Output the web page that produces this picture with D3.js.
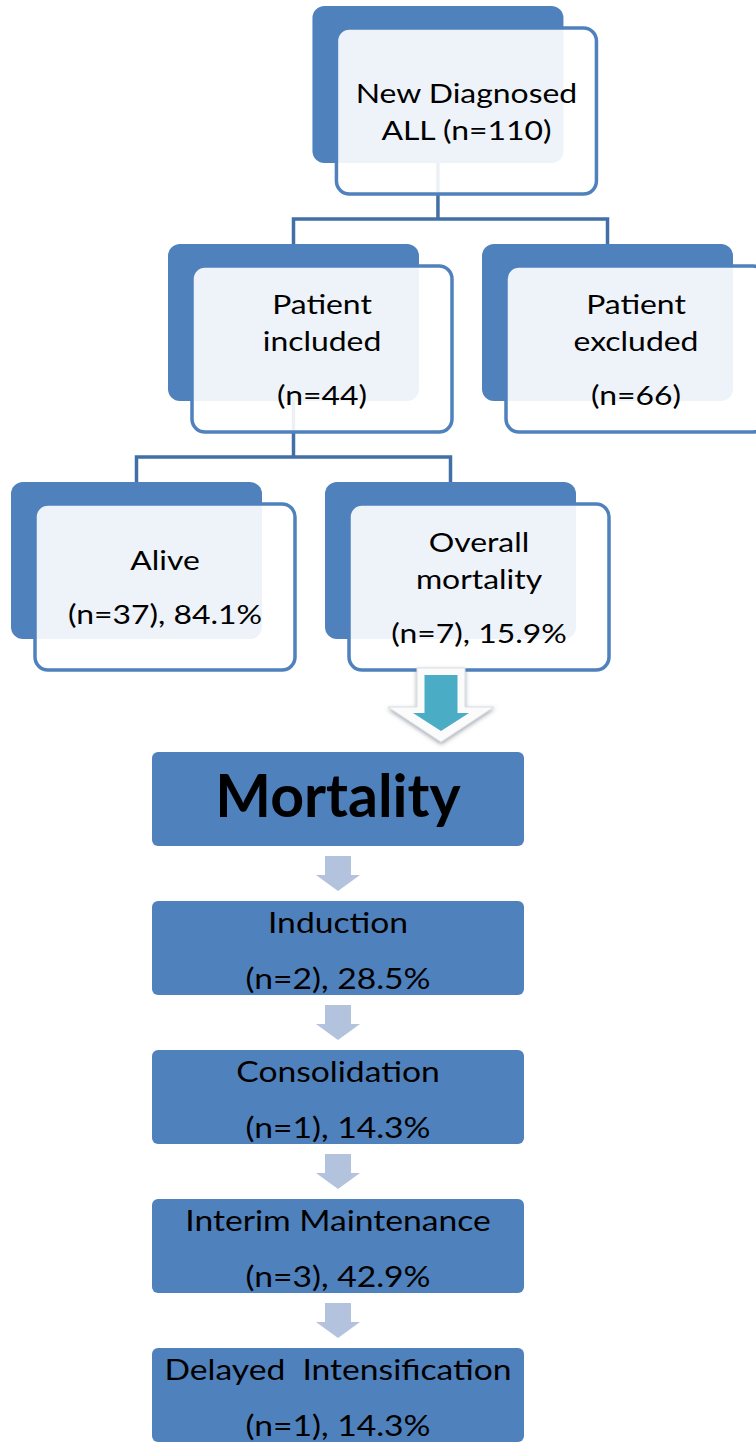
<!DOCTYPE html>
<html>
<head>
<meta charset="utf-8">
<script src="https://cdn.jsdelivr.net/npm/d3@7/dist/d3.min.js"></script>
<style>
  body { margin: 0; background: #fff; }
  text { font-family: Lato, "Open Sans", sans-serif; fill: #000; white-space: pre; }
</style>
</head>
<body>
<svg id="canvas" width="756" height="1446"></svg>
<script>
// flow tree
let nodeTitles = [["New Diagnosed"], ["Patient", "included"], ["Patient", "excluded"], ["Alive"], ["Overall", "mortality"]]
let nodeCounts = [110, 44, 66, 37, 7]
let nodePercents = [null, null, null, 84.1, 15.9]
let nodeParents = [null, 0, 0, 1, 1]

// mortality by phase
let mortalityTitle = "Mortality"
let phaseNames = ["Induction", "Consolidation", "Interim Maintenance", "Delayed  Intensification"]
let phaseCounts = [2, 1, 3, 1]
let phasePercents = [28.5, 14.3, 42.9, 14.3]

let canvas = d3.select("#canvas")

let blue = "#4f81bd"
let lineBlue = "#4270a6"
let stretch = 1.16   // text in the picture is a bit wide

// layout of the tree
let nodeCols = [1.92, 1, 3, 0, 2]
let nodeLevels = [0, 1, 1, 2, 2]
let xCol = d3.scaleLinear().domain([0, 1]).range([11, 168])
let yLevel = d3.scaleLinear().domain([0, 1]).range([6, 244])
let backW = 251, backH = 157
let offX = 24, offY = 22, frontW = 260, frontH = 166

let nodes = nodeTitles.map((t, i) => {
    let x = xCol(nodeCols[i])
    let y = yLevel(nodeLevels[i])
    let lines
    let breaks
    if (nodeParents[i] === null) {
        lines = [t[0], "ALL (n=" + nodeCounts[i] + ")"]
        breaks = [false, false]
    } else {
        let last = "(n=" + nodeCounts[i] + ")" + (nodePercents[i] !== null ? ", " + nodePercents[i].toFixed(1) + "%" : "")
        lines = t.concat([last])
        breaks = t.map(() => false).concat([true])
    }
    return { x: x, y: y, lines: lines, breaks: breaks, parent: nodeParents[i] }
})

// connectors (drawn first, boxes sit on top)
let connectors = canvas.append("g")
nodes.forEach((n, i) => {
    let kids = nodes.filter(k => k.parent === i)
    if (kids.length === 0) return
    let px = n.x + backW / 2
    let midY = (n.y + offY + frontH + kids[0].y) / 2
    let path = d3.path()
    path.moveTo(px, n.y + backH)
    path.lineTo(px, midY)
    let xs = kids.map(k => k.x + backW / 2)
    path.moveTo(d3.min(xs), kids[0].y)
    path.lineTo(d3.min(xs), midY)
    path.lineTo(d3.max(xs), midY)
    path.lineTo(d3.max(xs), kids[0].y)
    connectors.append("path")
        .attr("d", path.toString())
        .attr("fill", "none")
        .attr("stroke", lineBlue)
        .attr("stroke-width", 3.5)
})

let drawText = (g, str, x, y, size, weight, sx) => {
    g.append("text")
        .attr("transform", "translate(" + x + "," + y + ") scale(" + sx + ",1)")
        .attr("text-anchor", "middle")
        .style("font-size", size + "px")
        .style("font-weight", weight)
        .text(str)
}

let nodeGroups = canvas.selectAll("g.node")
    .data(nodes)
    .enter()
    .append("g")
    .attr("class", "node")

nodeGroups.append("rect")
    .attr("x", d => d.x)
    .attr("y", d => d.y)
    .attr("width", backW)
    .attr("height", backH)
    .attr("rx", 12)
    .attr("fill", blue)

nodeGroups.append("rect")
    .attr("x", d => d.x + offX)
    .attr("y", d => d.y + offY)
    .attr("width", frontW)
    .attr("height", frontH)
    .attr("rx", 13)
    .attr("fill", "#fff")
    .attr("fill-opacity", 0.9)
    .attr("stroke", blue)
    .attr("stroke-width", 3.5)

nodeGroups.each(function (d) {
    let g = d3.select(this)
    let gaps = d.breaks.slice(1).map(b => b ? 54 : 37)
    let span = d3.sum(gaps)
    let y = d.y + offY + 93 - span / 2
    let cx = d.x + offX + frontW / 2
    d.lines.forEach((line, j) => {
        if (j > 0) y += gaps[j - 1]
        drawText(g, line, cx, y, 27.5, 400, stretch)
    })
})

// big arrow from overall mortality into the mortality column
let defs = canvas.append("defs")
let shadow = defs.append("filter").attr("id", "shadow").attr("x", "-30%").attr("y", "-30%").attr("width", "160%").attr("height", "160%")
shadow.append("feDropShadow")
    .attr("dx", 0).attr("dy", 2).attr("stdDeviation", 2.2)
    .attr("flood-color", "#5a6470").attr("flood-opacity", 0.55)

let arrowShape = (cx, top, shaftHalf, shaftBottom, headHalf, tip) => {
    return d3.line()([
        [cx - shaftHalf, top], [cx + shaftHalf, top], [cx + shaftHalf, shaftBottom],
        [cx + headHalf, shaftBottom], [cx, tip], [cx - headHalf, shaftBottom],
        [cx - shaftHalf, shaftBottom]
    ]) + "Z"
}

canvas.append("path")
    .attr("d", arrowShape(441, 668, 24, 707, 53, 742))
    .attr("fill", "#fbfbfb")
    .attr("stroke", "#d9dde2")
    .attr("stroke-width", 1)
    .attr("filter", "url(#shadow)")
canvas.append("path")
    .attr("d", arrowShape(441, 675, 16.5, 713, 28, 731))
    .attr("fill", "#4bacc6")

// mortality column
let colX = 152, colW = 372, boxH = 94
let yStep = d3.scaleLinear().domain([0, 1]).range([752, 901])
let colBoxes = [{ title: mortalityTitle, main: true }].concat(phaseNames.map((p, i) => ({
    title: p,
    sub: "(n=" + phaseCounts[i] + "), " + phasePercents[i].toFixed(1) + "%",
    main: false
})))

let col = canvas.selectAll("g.phase")
    .data(colBoxes)
    .enter()
    .append("g")
    .attr("class", "phase")

col.append("rect")
    .attr("x", colX)
    .attr("y", (d, i) => yStep(i))
    .attr("width", colW)
    .attr("height", boxH)
    .attr("rx", 6)
    .attr("fill", blue)

col.each(function (d, i) {
    let g = d3.select(this)
    let top = yStep(i)
    let cx = colX + colW / 2
    if (d.main) {
        drawText(g, d.title, cx, top + 65, 59, 700, 1)
    } else {
        drawText(g, d.title, cx, top + 32, 29, 400, stretch)
        drawText(g, d.sub, cx, top + 88, 29, 400, stretch)
    }
})

// small arrows between boxes
colBoxes.slice(1).forEach((d, i) => {
    let top = yStep(i) + boxH + 10
    let bottom = yStep(i + 1) - 10
    canvas.append("path")
        .attr("d", arrowShape(colX + colW / 2, top, 13, top + 19, 22, bottom))
        .attr("fill", "#b3c3de")
})
</script>
</body>
</html>
